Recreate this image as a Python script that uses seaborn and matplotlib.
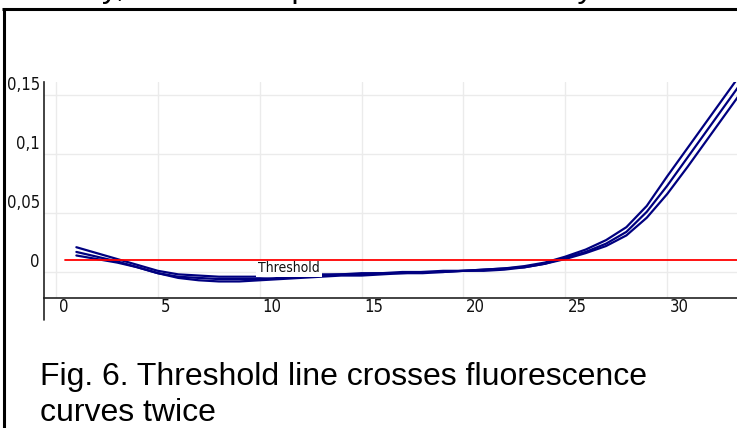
import matplotlib
matplotlib.use("Agg")
import matplotlib.pyplot as plt
import pandas as pd
import seaborn as sns
from matplotlib.lines import Line2D
from matplotlib.patches import Rectangle
from matplotlib.transforms import ScaledTranslation

# Amplification data: fluorescence per cycle for three wells
cycles = list(range(1, 35))
well_a = [0.021, 0.016, 0.011, 0.006, 0.001, -0.002, -0.003, -0.004, -0.004, -0.004,
          -0.003, -0.003, -0.002, -0.002, -0.001, -0.001, 0.000, 0.000, 0.001, 0.001,
          0.002, 0.003, 0.005, 0.008, 0.013, 0.019, 0.027, 0.038, 0.056, 0.081,
          0.105, 0.129, 0.153, 0.177]
well_b = [0.017, 0.013, 0.009, 0.004, -0.001, -0.004, -0.005, -0.006, -0.006, -0.006,
          -0.005, -0.004, -0.003, -0.002, -0.002, -0.001, -0.001, 0.000, 0.000, 0.001,
          0.002, 0.003, 0.004, 0.007, 0.012, 0.017, 0.024, 0.034, 0.051, 0.073,
          0.097, 0.121, 0.145, 0.169]
well_c = [0.014, 0.011, 0.008, 0.004, -0.001, -0.005, -0.007, -0.008, -0.008, -0.007,
          -0.006, -0.005, -0.004, -0.003, -0.003, -0.002, -0.001, -0.001, 0.000, 0.001,
          0.001, 0.002, 0.004, 0.007, 0.011, 0.016, 0.022, 0.031, 0.046, 0.066,
          0.089, 0.113, 0.137, 0.161]
wells = {"A": well_a, "B": well_b, "C": well_c}

threshold = 0.01
threshold_start = 0.45
threshold_label = "Threshold"
threshold_label_x = 9.92

x_ticks = [0, 5, 10, 15, 20, 25, 30]
x_tick_labels = ["0", "5", "10", "15", "20", "25", "30"]
y_ticks = [0, 0.05, 0.1, 0.15]
y_tick_labels = ["0", "0,05", "0,1", "0,15"]

header_tail = "y, curves are processed incorrectly"
caption_lines = ["Fig. 6. Threshold line crosses fluorescence", "curves twice"]

df = pd.DataFrame(
    [(w, c, v) for w, vals in wells.items() for c, v in zip(cycles, vals)],
    columns=["well", "cycle", "fluorescence"],
)

sns.set_style("white")
plt.rcParams["font.family"] = ["Liberation Sans", "DejaVu Sans"]
tick_font = dict(family="DejaVu Sans", stretch="condensed")

W, H = 737, 428
fig = plt.figure(figsize=(W / 100, H / 100), dpi=100)
fig.patch.set_facecolor("white")


def fx(px):
    return px / W


def fy(py):
    return 1 - py / H


ax = fig.add_axes([fx(44), fy(298), fx(737) - fx(44), fy(82) - fy(298)])
ax.set_facecolor("white")

sns.lineplot(data=df, x="cycle", y="fluorescence", units="well", estimator=None,
             color="#000080", linewidth=1.6, ax=ax, legend=False, zorder=2)

ax.plot([threshold_start, 34], [threshold, threshold], color="#ff0000",
        linewidth=1.3, zorder=5)
ax.annotate(threshold_label, xy=(threshold_label_x, threshold), xytext=(0, -0.5),
            textcoords="offset points", ha="left", va="top", fontsize=10,
            color="#111111", zorder=4,
            bbox=dict(facecolor="white", edgecolor="none", pad=1.5), **tick_font)

ax.set_xlim(-0.589, 33.43)
ax.set_ylim(-0.02203, 0.1610)
ax.set_xlabel("")
ax.set_ylabel("")

ax.set_xticks(x_ticks)
ax.set_xticklabels(x_tick_labels, fontsize=12, **tick_font)
ax.set_yticks(y_ticks)
ax.set_yticklabels(y_tick_labels, fontsize=12, **tick_font)

ax.grid(True, color="#ebebeb", linewidth=1.0, zorder=0)
ax.set_axisbelow(True)
for side in ("top", "right"):
    ax.spines[side].set_visible(False)
for side in ("left", "bottom"):
    ax.spines[side].set_color("#222222")
    ax.spines[side].set_linewidth(1.2)

ax.tick_params(axis="x", direction="out", length=7.2, width=1.0, pad=-7.2,
               color="#222222", labelcolor="#111111")
ax.tick_params(axis="y", direction="out", length=5.8, width=1.0, pad=-2.9,
               color="#222222", labelcolor="#111111")

shift_x = ScaledTranslation(2 / 72, 0, fig.dpi_scale_trans)
for lab in ax.get_xticklabels():
    lab.set_horizontalalignment("left")
    lab.set_transform(lab.get_transform() + shift_x)
shift_y = ScaledTranslation(0, 1 / 72, fig.dpi_scale_trans)
for lab in ax.get_yticklabels():
    lab.set_verticalalignment("bottom")
    lab.set_transform(lab.get_transform() + shift_y)

# value axis continues a little below the cycle axis
fig.add_artist(Line2D([fx(44), fx(44)], [fy(298), fy(320)], color="#222222",
                      linewidth=1.2))

# page frame
fig.add_artist(Rectangle((0, 0), fx(5), 1, transform=fig.transFigure,
                         facecolor="white", edgecolor="none", zorder=10))
fig.add_artist(Line2D([fx(3.5), fx(3.5)], [0, fy(8.5)], color="black",
                      linewidth=2.2, zorder=11, solid_capstyle="butt"))
fig.add_artist(Line2D([fx(2.4), 1], [fy(8.5), fy(8.5)], color="black",
                      linewidth=2.2, zorder=11, solid_capstyle="butt"))

fig.text(fx(102), fy(-2.5), header_tail, fontsize=23, va="baseline", ha="left",
         color="black")
fig.text(fx(40), fy(385), caption_lines[0], fontsize=23, va="baseline",
         ha="left", color="black")
fig.text(fx(40), fy(421), caption_lines[1], fontsize=23, va="baseline",
         ha="left", color="black")

fig.savefig("out.png", dpi=100, facecolor="white")
